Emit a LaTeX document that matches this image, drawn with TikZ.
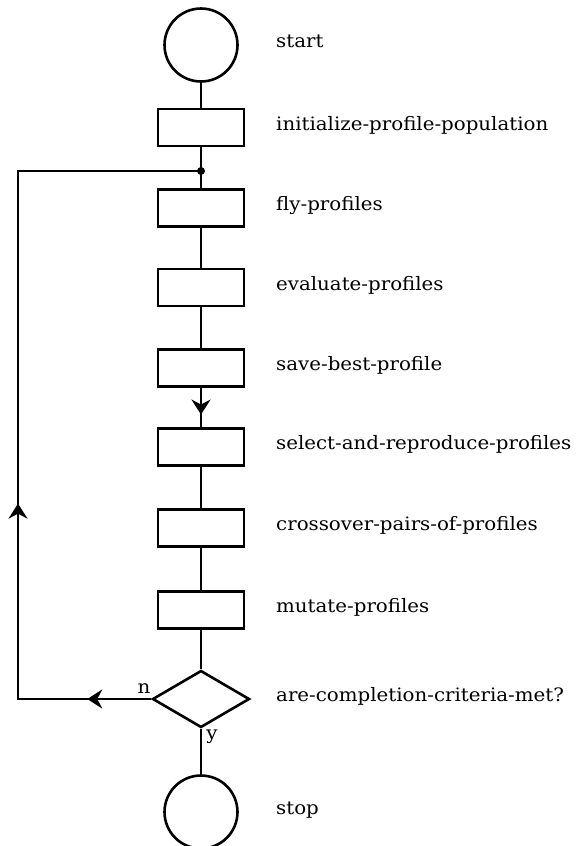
\documentclass[tikz,border=0pt]{standalone}
\usepackage{fontspec}
\setmainfont{DejaVu Serif}[FakeStretch=1.07]
\usetikzlibrary{shapes.geometric,arrows.meta,calc}
\begin{document}
\begin{tikzpicture}[x=1pt,y=-1pt,
  conn/.style={line width=2.8pt},
  proc/.style={draw,line width=2.8pt,minimum width=86pt,minimum height=37pt,inner sep=0pt},
  term/.style={draw,circle,line width=2.6pt,minimum size=73pt,inner sep=0pt},
  dec/.style={draw,diamond,line width=2.6pt,minimum width=97pt,minimum height=57pt,inner sep=0pt},
  lbl/.style={anchor=mid west,font=\fontsize{18.5}{22}\selectfont,inner sep=0pt},
  tip/.style={-{Stealth[length=15pt,width=19pt,inset=5pt]}}]
\useasboundingbox (0,0) rectangle (581,846);
\node[term] (start) at (201,45) {};
\node[proc] (init) at (201,127.5) {};
\node[proc] (fly) at (201,208) {};
\node[proc] (eval) at (201,287.5) {};
\node[proc] (save) at (201,368) {};
\node[proc] (sel) at (201,447) {};
\node[proc] (cross) at (201,528) {};
\node[proc] (mut) at (201,610) {};
\node[dec] (crit) at (201,699) {};
\node[term] (stop) at (201,812) {};
\coordinate (j) at (201,171);
\coordinate (bl) at (18,699);
\coordinate (tl) at (18,171);

\node[lbl] (tstart) at (276,45) {start};
\node[lbl] (tinit) at (276,127.5) {initialize-profile-population};
\node[lbl] (tfly) at (276,208) {fly-profiles};
\node[lbl] (teval) at (276,287.5) {evaluate-profiles};
\node[lbl] (tsave) at (276,368) {save-best-profile};
\node[lbl] (tsel) at (276,447) {select-and-reproduce-profiles};
\node[lbl] (tcross) at (276,528) {crossover-pairs-of-profiles};
\node[lbl] (tmut) at (276,610) {mutate-profiles};
\node[lbl] (tcrit) at (276,699) {are-completion-criteria-met?};
\node[lbl] (tstop) at (276,812) {stop};
\node[lbl,anchor=center] (ln) at (144,689) {n};
\node[lbl,anchor=center] (ly) at (212,737) {y};

\draw[conn] (start) -- (init);
\draw[conn] (init) -- (j) -- (fly);
\draw[conn] (fly) -- (eval);
\draw[conn] (eval) -- (save);
\draw[conn] (save) -- (sel);
\draw[conn,tip] (save.south) -- ($(save.south)!0.68!(sel.north)$);
\draw[conn] (sel) -- (cross);
\draw[conn] (cross) -- (mut);
\draw[conn] (mut) -- (crit);
\draw[conn] (crit) -- (stop);
\draw[conn] (crit.west) -- (bl) -- (tl) -- (j);
\draw[conn,tip] (crit.west) -- ($(crit.west)!0.48!(bl)$);
\draw[conn,tip] (bl) -- ($(bl)!0.37!(tl)$);
\fill (j) circle (4pt);
\end{tikzpicture}
\end{document}
